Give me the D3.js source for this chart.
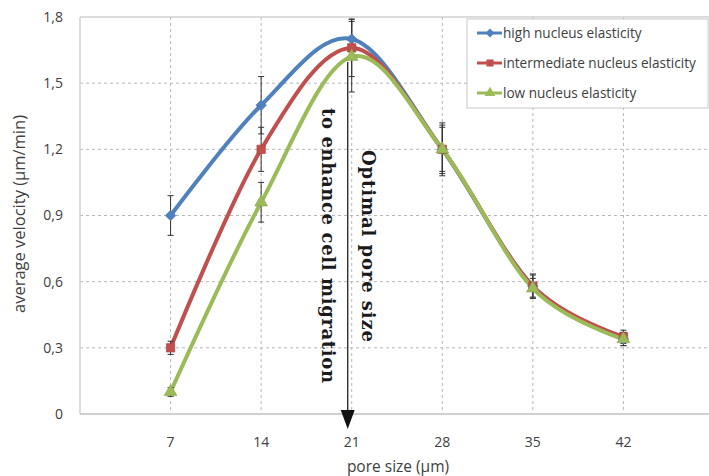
<!DOCTYPE html>
<html lang="en">
<head>
	<meta charset="utf-8">
	<script src="https://d3js.org/d3.v7.min.js"></script>
	<style>
		body { margin: 0; background: white; }
		svg { font-family: 'Open Sans', sans-serif; }
		.grid line { stroke: #b8b8b8; stroke-dasharray: 3, 3; }
		.tick-label { fill: #404040; font-size: 14px; }
		.axis-title { fill: #404040; font-size: 15.5px; }
		.legend text { fill: #404040; font-size: 13.6px; }
		.note { font-family: 'DejaVu Serif', serif; font-weight: bold; font-size: 18px; fill: #1a1a1a; }
	</style>
</head>
<body>
	<svg width="709" height="476"></svg>
	<script>
		// data
		const poreSizes = [7, 14, 21, 28, 35, 42]
		const yTicks = [0, 0.3, 0.6, 0.9, 1.2, 1.5, 1.8]
		const seriesNames = ["high nucleus elasticity", "intermediate nucleus elasticity", "low nucleus elasticity"]
		const highVals = [0.90, 1.40, 1.70, 1.20, 0.58, 0.34]
		const midVals = [0.30, 1.20, 1.66, 1.20, 0.58, 0.35]
		const lowVals = [0.10, 0.96, 1.62, 1.20, 0.57, 0.34]
		const highErr = [0.09, 0.13, 0.09, 0.12, 0.055, 0.03]
		const midErr = [0.03, 0.10, 0.13, 0.11, 0.05, 0.03]
		const lowErr = [0.02, 0.09, 0.16, 0.10, 0.045, 0.03]

		const colors = ["#4f81bd", "#c0504d", "#9bbb59"]
		const symbols = [d3.symbolDiamond2, d3.symbolSquare, d3.symbolTriangle]

		const svg = d3.select("svg")
		const plotLeft = 80, plotRight = 714, plotTop = 17, plotBottom = 414

		const x = d3.scaleLinear().domain([0, 49]).range([plotLeft, plotRight])
		const y = d3.scaleLinear().domain([0, 1.8]).range([plotBottom, plotTop])

		// grid
		const grid = svg.append("g").attr("class", "grid")
		grid.selectAll("line.v").data(poreSizes).join("line")
			.attr("class", "v")
			.attr("x1", d => x(d)).attr("x2", d => x(d))
			.attr("y1", plotTop).attr("y2", plotBottom)
		grid.selectAll("line.h").data(yTicks.filter(d => d > 0 && d < 1.8)).join("line")
			.attr("class", "h")
			.attr("x1", plotLeft).attr("x2", plotRight)
			.attr("y1", d => y(d)).attr("y2", d => y(d))

		// plot frame
		svg.append("line").attr("x1", plotLeft).attr("x2", plotRight).attr("y1", plotTop).attr("y2", plotTop)
			.attr("stroke", "#d0d0d0").attr("stroke-width", 1.5)
		svg.append("line").attr("x1", plotLeft).attr("x2", plotLeft).attr("y1", plotTop).attr("y2", plotBottom)
			.attr("stroke", "#d0d0d0").attr("stroke-width", 1.5)
		svg.append("line").attr("x1", plotLeft).attr("x2", plotRight).attr("y1", plotBottom).attr("y2", plotBottom)
			.attr("stroke", "#d0d0d0").attr("stroke-width", 2)

		// tick labels
		svg.selectAll("text.ytick").data(yTicks).join("text")
			.attr("class", "tick-label ytick")
			.attr("x", 63).attr("y", d => y(d)).attr("dy", "0.35em")
			.attr("text-anchor", "end")
			.text(d => d === 0 ? "0" : d3.format(".1f")(d).replace(".", ","))
		svg.selectAll("text.xtick").data(poreSizes).join("text")
			.attr("class", "tick-label xtick")
			.attr("x", d => x(d)).attr("y", 442).attr("dy", "0.35em")
			.attr("text-anchor", "middle")
			.text(d => d)

		svg.append("text").attr("class", "axis-title")
			.attr("x", 398).attr("y", 467).attr("dy", "0.35em").attr("text-anchor", "middle")
			.text("pore size (µm)")
		svg.append("text").attr("class", "axis-title")
			.attr("transform", "translate(19," + 214 + ") rotate(-90)")
			.attr("dy", "0.35em").attr("text-anchor", "middle")
			.style("font-size", "16.5px")
			.text("average velocity (µm/min)")

		// series
		const errs = [highErr, midErr, lowErr]
		const series = [highVals, midVals, lowVals].map((vals, i) => ({
			name: seriesNames[i],
			color: colors[i],
			symbol: symbols[i],
			points: poreSizes.map((p, j) => ({ x: p, v: vals[j], e: errs[i][j] }))
		}))

		const line = d3.line()
			.curve(d3.curveCatmullRom.alpha(0))
			.x(d => x(d.x)).y(d => y(d.v))

		series.forEach(s => {
			svg.append("path").datum(s.points)
				.attr("d", line)
				.attr("fill", "none")
				.attr("stroke", s.color)
				.attr("stroke-width", 4)
				.attr("stroke-linejoin", "round")
		})

		// error bars
		series.forEach(s => {
			const g = svg.append("g").attr("stroke", "#333").attr("stroke-width", 1)
			s.points.forEach(p => {
				g.append("line").attr("x1", x(p.x)).attr("x2", x(p.x))
					.attr("y1", y(p.v + p.e)).attr("y2", y(p.v - p.e))
				g.append("line").attr("x1", x(p.x) - 3).attr("x2", x(p.x) + 3)
					.attr("y1", y(p.v + p.e)).attr("y2", y(p.v + p.e))
				g.append("line").attr("x1", x(p.x) - 3).attr("x2", x(p.x) + 3)
					.attr("y1", y(p.v - p.e)).attr("y2", y(p.v - p.e))
			})
		})

		// markers
		series.forEach(s => {
			svg.append("g").selectAll("path").data(s.points).join("path")
				.attr("transform", d => "translate(" + x(d.x) + "," + y(d.v) + ")")
				.attr("d", d3.symbol().type(s.symbol).size(70))
				.attr("fill", s.color)
				.attr("stroke", d3.color(s.color).darker(0.3))
				.attr("stroke-width", 0.7)
		})

		// annotation arrow at optimal pore size
		const ax = x(21) - 4
		svg.append("line").attr("x1", ax).attr("x2", ax).attr("y1", 62).attr("y2", 412)
			.attr("stroke", "#222").attr("stroke-width", 1.3)
		svg.append("path")
			.attr("d", "M" + (ax - 7) + ",410 L" + (ax + 7) + ",410 L" + ax + ",429 Z")
			.attr("fill", "#111")

		svg.append("text").attr("class", "note")
			.attr("transform", "translate(368,150) rotate(90)")
			.attr("dy", "0.35em")
			.attr("textLength", 192).attr("lengthAdjust", "spacing")
			.text("Optimal pore size")
		svg.append("text").attr("class", "note")
			.attr("transform", "translate(328,108) rotate(90)")
			.attr("dy", "0.35em")
			.attr("textLength", 275).attr("lengthAdjust", "spacing")
			.text("to enhance cell migration")

		// legend
		const legend = svg.append("g").attr("class", "legend")
		legend.append("rect").attr("x", 467).attr("y", 19).attr("width", 241).attr("height", 89)
			.attr("fill", "white").attr("stroke", "#c8c8c8").attr("stroke-width", 1)
		series.forEach((s, i) => {
			const ly = 33 + i * 30
			legend.append("line").attr("x1", 477).attr("x2", 502).attr("y1", ly).attr("y2", ly)
				.attr("stroke", s.color).attr("stroke-width", 3)
			legend.append("path").attr("transform", "translate(490," + ly + ")")
				.attr("d", d3.symbol().type(s.symbol).size(50))
				.attr("fill", s.color)
			legend.append("text").attr("x", 503).attr("y", ly).attr("dy", "0.35em").text(s.name)
		})
	</script>
</body>
</html>
